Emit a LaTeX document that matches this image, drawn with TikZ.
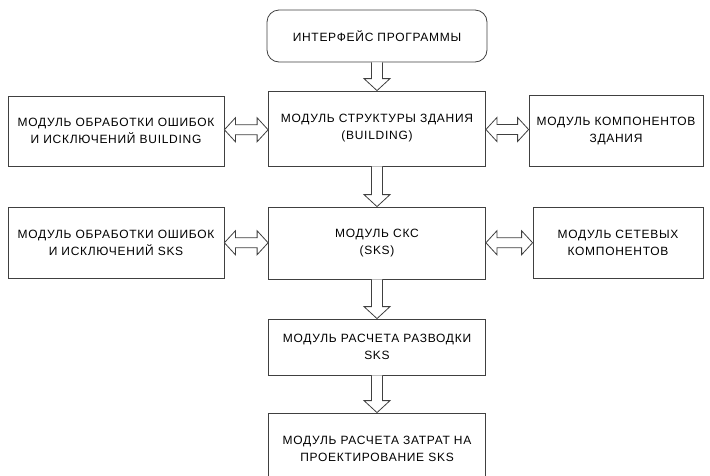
\documentclass[tikz,border=0pt]{standalone}
\usepackage{fontspec}
\setmainfont[LetterSpace=6]{Liberation Sans}
\usetikzlibrary{calc}

\tikzset{
    modbox/.style={draw=black!75,line width=0.8pt,fill=white,align=center,
        inner sep=0pt,font=\fontsize{12}{17}\selectfont},
    blockarr/.style={draw=black!75,line width=0.8pt,fill=white,line join=miter},
}

% Полая стрелка вниз от #1 к #2.
\newcommand{\downblock}[2]{%
    \draw[blockarr] ($(#1.south)+(-5.5,0)$) -- ($(#2.north)+(-5.5,-12)$)
        -- ++(-7.5,0) -- (#2.north) -- ++(13,-12) -- ++(-7.5,0)
        -- ($(#1.south)+(5.5,0)$);
}
% Полая двусторонняя стрелка между #1 и #2.
\newcommand{\twoblock}[2]{%
    \path ($(#1.east)!0.5!(#2.west)$) coordinate (mid);
    \draw[blockarr] (#1.east |- mid) -- ++(11,-12) -- ++(0,7)
        -- ($(#2.west |- mid)+(-11,-5)$) -- ++(0,-7) -- (#2.west |- mid)
        -- ++(-11,12) -- ++(0,-7) -- ($(#1.east |- mid)+(11,5)$)
        -- ++(0,7) -- cycle;
}

\begin{document}
\begin{tikzpicture}[x=1pt,y=-1pt]
    \useasboundingbox (0,0) rectangle (710,475);

    % Интерфейс.
    \node[modbox,rounded corners=12pt,minimum width=220,minimum height=52]
        (ui) at (377,36) {ИНТЕРФЕЙС ПРОГРАММЫ};

    % Первый ряд: здание.
    \node[modbox,minimum width=217,minimum height=75] (bld) at (377,128.5)
        {МОДУЛЬ СТРУКТУРЫ ЗДАНИЯ\\(BUILDING)};
    \node[modbox,minimum width=216,minimum height=70] (errb) at (116,131)
        {МОДУЛЬ ОБРАБОТКИ ОШИБОК\\И ИСКЛЮЧЕНИЙ BUILDING};
    \node[modbox,minimum width=174,minimum height=71] (compb) at (616,130.5)
        {МОДУЛЬ КОМПОНЕНТОВ\\ЗДАНИЯ};

    % Второй ряд: СКС.
    \node[modbox,minimum width=217,minimum height=72] (sks) at (377,243)
        {МОДУЛЬ СКС\\(SKS)};
    \node[modbox,minimum width=216,minimum height=71] (errs) at (116,242.5)
        {МОДУЛЬ ОБРАБОТКИ ОШИБОК\\И ИСКЛЮЧЕНИЙ SKS};
    \node[modbox,minimum width=170,minimum height=71] (netc) at (618,242.5)
        {МОДУЛЬ СЕТЕВЫХ\\КОМПОНЕНТОВ};

    % Расчеты.
    \node[modbox,minimum width=217,minimum height=56] (wire) at (377,347)
        {МОДУЛЬ РАСЧЕТА РАЗВОДКИ\\SKS};
    \node[modbox,minimum width=217,minimum height=72] (cost) at (377,449)
        {МОДУЛЬ РАСЧЕТА ЗАТРАТ НА\\ПРОЕКТИРОВАНИЕ SKS};

    % Стрелки.
    \downblock{ui}{bld}
    \downblock{bld}{sks}
    \downblock{sks}{wire}
    \downblock{wire}{cost}
    \twoblock{errb}{bld}
    \twoblock{bld}{compb}
    \twoblock{errs}{sks}
    \twoblock{sks}{netc}
\end{tikzpicture}
\end{document}
